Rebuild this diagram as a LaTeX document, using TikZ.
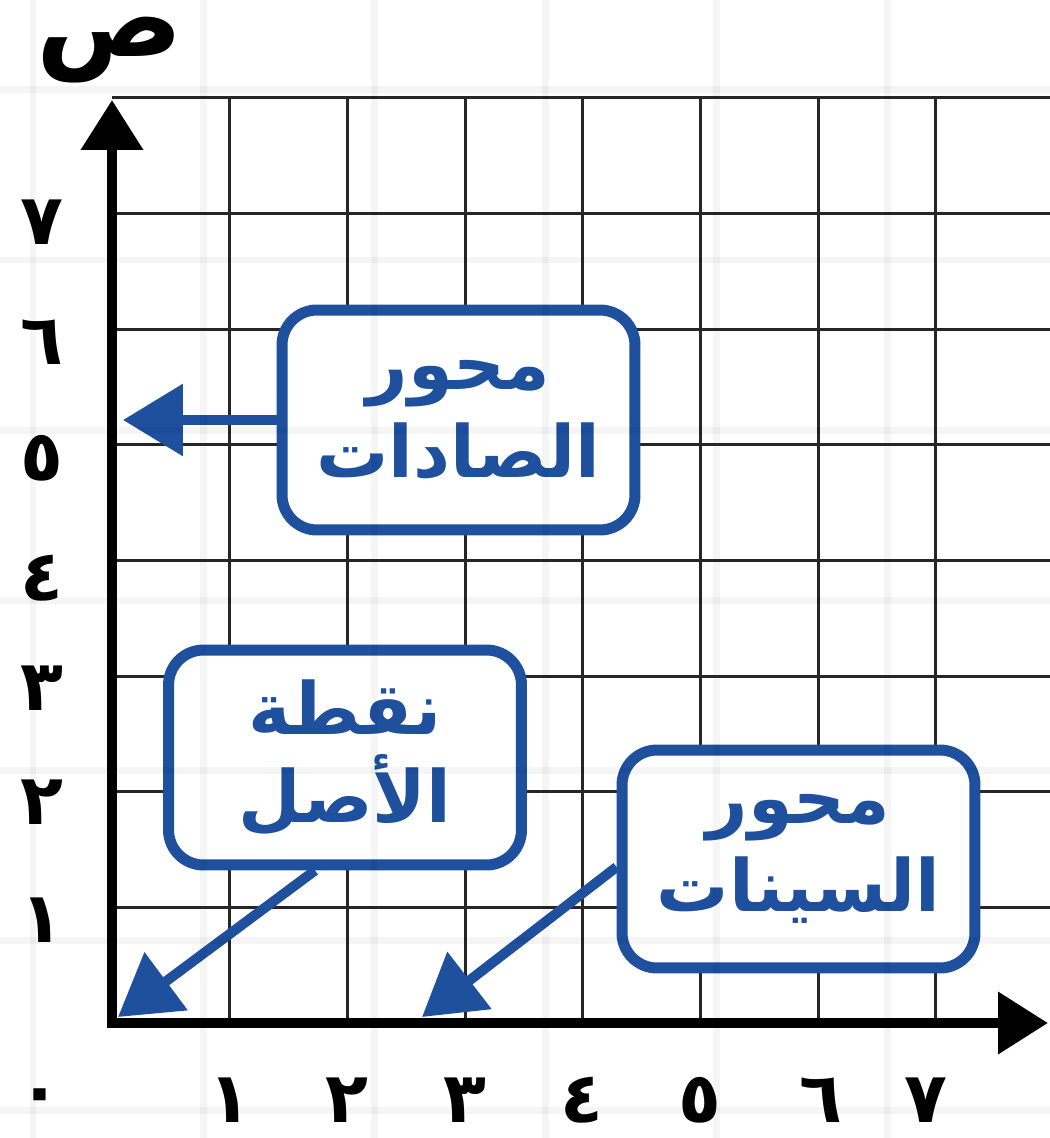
\documentclass[tikz,border=0pt]{standalone}
\usepackage{fontspec}
\usetikzlibrary{arrows.meta}
\TeXXeTstate=1
\newfontfamily\arabicfont[Script=Arabic]{DejaVu Sans}
\definecolor{boxblue}{RGB}{30,80,158}
\tikzset{
  gridline/.style={line width=0.06cm, black!85},
  axisline/.style={line width=0.21cm, black, line join=miter, {Triangle[length=1cm,width=1.2cm]}-{Triangle[length=1cm,width=1.2cm]}},
  labelbox/.style={draw=boxblue, line width=0.22cm, rounded corners=0.7cm, fill=white, text=boxblue,
     align=center, font=\arabicfont\bfseries\fontsize{41}{50}\selectfont,
     minimum width=7.06cm},
  pointer/.style={draw=boxblue, line width=0.2cm, -{Triangle[length=1.2cm,width=1.4cm]}},
  digit/.style={font=\arabicfont\bfseries\fontsize{40}{48}\selectfont, inner sep=0pt},
  faint/.style={line width=0.14cm, black, opacity=0.04}
}
\begin{document}
\begin{tikzpicture}[x=0.02cm,y=-0.02cm]
\useasboundingbox (0,0) rectangle (1050,1138);
\fill[white] (0,0) rectangle (1050,1138);
% grid
\foreach \k in {1,...,7} {
  \draw[gridline] ({112+117.7*\k},98) -- ({112+117.7*\k},1023);
}
\foreach \k in {0,...,7} {
  \draw[gridline] (112,{98+115.6*\k}) -- (1050,{98+115.6*\k});
}
% axes
\draw[axisline] (112,100) -- (112,1023) -- (1048,1023);
% axis label
\node[font=\arabicfont\bfseries\fontsize{62}{70}\selectfont, inner sep=0pt] (ylab) at (110,50) {ص};
% y labels
\node[digit] (y7) at (42,222) {٧};
\node[digit] (y6) at (42,342) {٦};
\node[digit] (y5) at (42,458) {٥};
\node[digit] (y4) at (42,578) {٤};
\node[digit] (y3) at (42,688) {٣};
\node[digit] (y2) at (42,802) {٢};
\node[digit] (y1) at (42,920) {١};
\node[digit] (y0) at (40,1102) {٠};
% x labels
\node[digit] (x1) at (230,1100) {١};
\node[digit] (x2) at (347,1100) {٢};
\node[digit] (x3) at (465,1100) {٣};
\node[digit] (x4) at (582,1100) {٤};
\node[digit] (x5) at (700,1100) {٥};
\node[digit] (x6) at (821,1100) {٦};
\node[digit] (x7) at (926,1100) {٧};
% boxes
\node[labelbox, minimum height=4.4cm] (b1) at (458.5,420) {\beginR محور\endR\\\beginR الصادات\endR};
\node[labelbox, minimum height=4.3cm] (b2) at (345,757.5) {\beginR نقطة\endR\\\beginR الأصل\endR};
\node[labelbox, minimum height=4.36cm] (b3) at (798.5,859) {\beginR محور\endR\\\beginR السينات\endR};
% targets
\coordinate (ytarget) at (123,420);
\coordinate (otarget) at (118,1017);
\coordinate (xtarget) at (422,1017);
\draw[pointer] (b1.west) -- (ytarget);
\draw[pointer] ([xshift=-0.6cm]b2.south) -- (otarget);
\draw[pointer] ([yshift=-0.16cm]b3.west) -- (xtarget);
% faint background grid
\foreach \k in {0,...,6} {
  \draw[faint] ({33+170.8*\k},0) -- ({33+170.8*\k},1138);
  \draw[faint] (0,{90+170*\k}) -- (1050,{90+170*\k});
}
\end{tikzpicture}
\end{document}
